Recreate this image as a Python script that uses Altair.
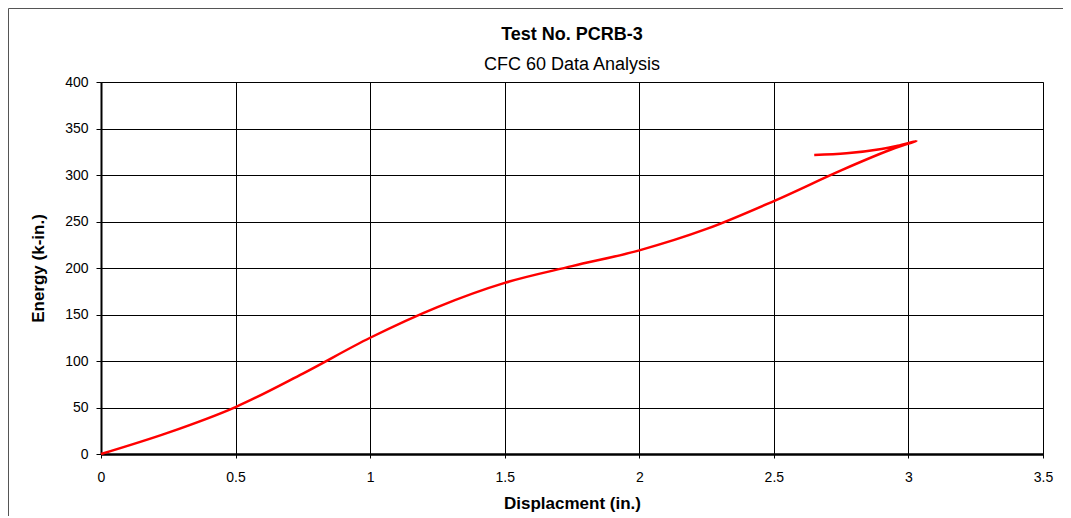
import altair as alt
import pandas as pd

# Data (displacement in., energy k-in.)
disp = [0.0, 0.25, 0.5, 0.75, 1.0, 1.25, 1.5, 1.75, 2.0, 2.25, 2.5,
        2.75, 2.95, 3.03, 2.96, 2.9, 2.77, 2.65]
energy = [0.0, 23, 50.5, 86.5, 125, 158, 184, 202, 219, 242, 272,
          305, 329, 336.5, 331.5, 328, 323.3, 321.5]
x_ticks = [0, 0.5, 1, 1.5, 2, 2.5, 3, 3.5]
y_ticks = [0, 50, 100, 150, 200, 250, 300, 350, 400]
title_text = "Test No. PCRB-3"
subtitle_text = "CFC 60 Data Analysis"
x_title = "Displacment (in.)"
y_title = "Energy (k-in.)"

W, H = 942, 372
PL, PT, PR, PB = 93, 74, 20, 62
FONT = "Liberation Sans"

df = pd.DataFrame({"disp": disp, "energy": energy, "order": range(len(disp))})
one = pd.DataFrame({"a": [0]})

line = alt.Chart(df).mark_line(color="#ff0000", strokeWidth=2.5,
                               interpolate="catmull-rom").encode(
    x=alt.X("disp:Q",
            scale=alt.Scale(domain=[0, 3.5], nice=False),
            axis=alt.Axis(values=x_ticks, title=x_title, format="~g",
                          tickSize=4, labelPadding=12, titlePadding=11,
                          labelFlush=False,
                          domainWidth=2.5, domainColor="#000")),
    y=alt.Y("energy:Q",
            scale=alt.Scale(domain=[0, 400], nice=False),
            axis=alt.Axis(values=y_ticks, title=y_title,
                          tickSize=5, labelPadding=8, titlePadding=17,
                          domainWidth=2, domainColor="#000")),
    order="order:Q",
)

border = alt.Chart(one).mark_rect(filled=False, stroke="#555", strokeWidth=1).encode(
    x=alt.value(-PL + 0.5), x2=alt.value(W + PR + 20),
    y=alt.value(-PT + 0.5), y2=alt.value(H + PB + 20),
)

t1 = alt.Chart(one).mark_text(font=FONT, fontSize=18, fontWeight="bold",
                              baseline="alphabetic", align="center").encode(
    x=alt.value(W / 2), y=alt.value(-42), text=alt.value(title_text))
t2 = alt.Chart(one).mark_text(font=FONT, fontSize=18,
                              baseline="alphabetic", align="center").encode(
    x=alt.value(W / 2), y=alt.value(-12), text=alt.value(subtitle_text))

chart = alt.layer(border, line, t1, t2).properties(
    width=W, height=H,
    autosize=alt.AutoSizeParams(type="none"),
    padding={"left": PL, "top": PT, "right": PR, "bottom": PB},
).configure_view(
    stroke="#808080", strokeWidth=1
).configure_axis(
    grid=True, gridColor="#000", gridWidth=1, gridOpacity=1,
    tickColor="#000", labelFont=FONT, labelFontSize=14, labelColor="#000",
    titleFont=FONT, titleFontSize=17, titleFontWeight="bold", titleColor="#000",
)

chart.save("out.html", embed_options={"renderer": "svg", "actions": False})
